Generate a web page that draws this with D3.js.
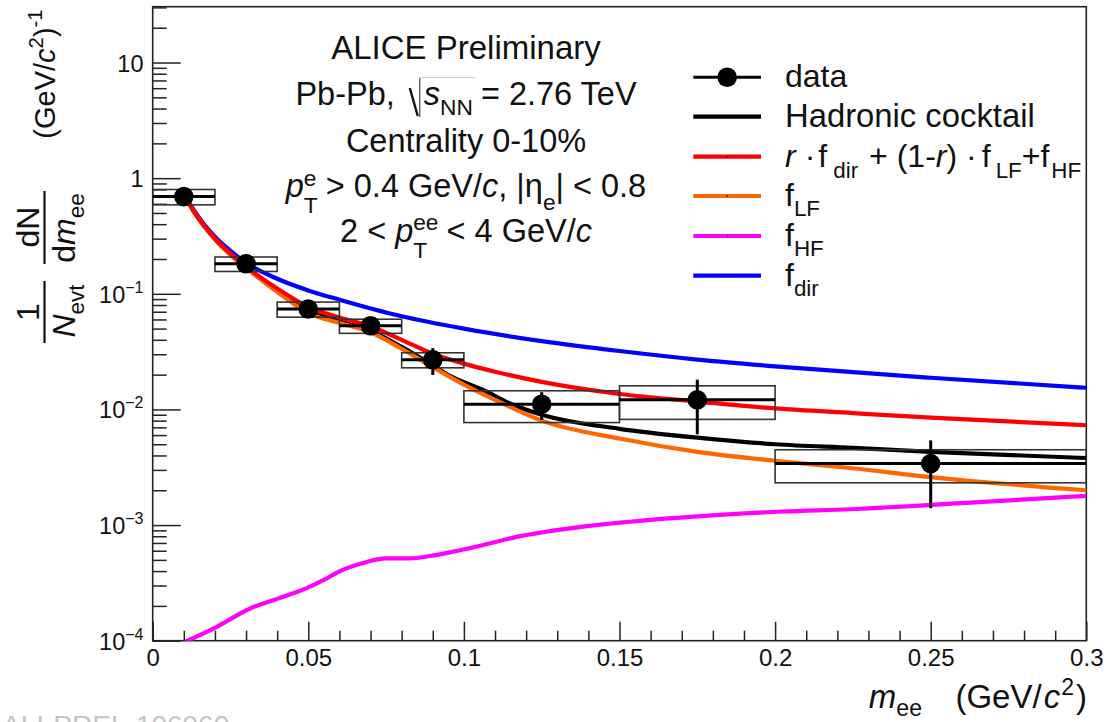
<!DOCTYPE html>
<html>
<head>
<meta charset="utf-8">
<script src="https://cdn.jsdelivr.net/npm/d3@7"></script>
<style>
  html, body { margin: 0; padding: 0; background: #fff; }
  svg { display: block; }
</style>
</head>
<body>
<svg id="chart" width="1104" height="722"></svg>
<script>
// ---------------- data ----------------
// dielectron mass bins (GeV/c^2)
const massLow    = [0.00, 0.02, 0.04, 0.06, 0.08, 0.10, 0.15, 0.20];
const massHigh   = [0.02, 0.04, 0.06, 0.08, 0.10, 0.15, 0.20, 0.30];
const massCenter = [0.01, 0.03, 0.05, 0.07, 0.09, 0.125, 0.175, 0.25];
// measured yield 1/Nevt dN/dm_ee with statistical and systematic uncertainties
const yieldData  = [0.693, 0.182, 0.0738, 0.0529, 0.0269, 0.0111, 0.0121, 0.0034];
const statErr    = [0.02, 0.006, 0.003, 0.003, 0.007, 0.003, 0.006, 0.002];
const sysErr     = [0.105, 0.026, 0.011, 0.0074, 0.004, 0.0034, 0.0039, 0.00108];

// model curves: [m_ee, yield]
const cocktailCurve = [[0.0104,0.69],[0.013,0.525],[0.0165,0.385],[0.0206,0.285],[0.025,0.218],[0.030,0.169],
  [0.040,0.105],[0.050,0.0705],[0.060,0.058],[0.070,0.048],[0.080,0.0347],[0.090,0.0240],[0.0955,0.0195],
  [0.106,0.0148],[0.115,0.0112],[0.125,0.0090],[0.150,0.0068],[0.175,0.0057],[0.200,0.0050],[0.225,0.00465],
  [0.250,0.00430],[0.300,0.00380]];
const fitCurve = [[0.0104,0.70],[0.013,0.53],[0.0165,0.39],[0.0206,0.29],[0.025,0.223],[0.030,0.172],
  [0.040,0.111],[0.050,0.077],[0.060,0.0625],[0.070,0.0522],[0.080,0.040],[0.090,0.0303],[0.100,0.0249],
  [0.110,0.0212],[0.125,0.0173],[0.150,0.0136],[0.175,0.0117],[0.200,0.0102],[0.225,0.0093],[0.250,0.0085],
  [0.300,0.0073]];
const lfCurve = [[0.0104,0.69],[0.013,0.525],[0.0165,0.385],[0.0206,0.285],[0.025,0.218],[0.030,0.168],
  [0.040,0.104],[0.050,0.068],[0.060,0.056],[0.070,0.0465],[0.080,0.0335],[0.090,0.0232],[0.100,0.0164],
  [0.110,0.0121],[0.125,0.0080],[0.150,0.0056],[0.175,0.0043],[0.200,0.0036],[0.225,0.0031],[0.250,0.0026],
  [0.300,0.0020]];
const hfCurve = [[0.0105,0.98e-4],[0.0206,1.32e-4],[0.0313,1.90e-4],[0.040,2.3e-4],[0.0495,2.85e-4],
  [0.055,3.35e-4],[0.0602,4.0e-4],[0.0688,4.8e-4],[0.0747,5.15e-4],[0.0827,5.15e-4],[0.0891,5.4e-4],
  [0.0955,5.8e-4],[0.105,6.6e-4],[0.117,7.9e-4],[0.1383,9.7e-4],[0.160,1.11e-3],[0.181,1.22e-3],
  [0.2025,1.31e-3],[0.2241,1.37e-3],[0.260,1.55e-3],[0.300,1.79e-3]];
const dirCurve = [[0.0104,0.70],[0.013,0.54],[0.0165,0.40],[0.0206,0.30],[0.025,0.235],[0.030,0.185],
  [0.040,0.135],[0.050,0.107],[0.060,0.089],[0.080,0.064],[0.100,0.050],[0.125,0.039],[0.150,0.032],
  [0.175,0.027],[0.200,0.0236],[0.250,0.0188],[0.300,0.0154]];

// axis ticks
const xMajorTicks  = [0, 0.05, 0.1, 0.15, 0.2, 0.25, 0.3];
const xMajorLabels = ["0", "0.05", "0.1", "0.15", "0.2", "0.25", "0.3"];
const yMajorTicks  = [1e-4, 1e-3, 1e-2, 1e-1, 1, 10];
const yMajorLabels = [["10","\u22124"], ["10","\u22123"], ["10","\u22122"], ["10","\u22121"], ["1",""], ["10",""]];

// ---------------- layout ----------------
const FONT = '"Liberation Sans", Arial, Helvetica, sans-serif';
const plot = { left: 152.7, right: 1086.3, top: 6.7, bottom: 640.7 };
const svg = d3.select('#chart').attr('font-family', FONT);

const x = d3.scaleLinear().domain([0, 0.3]).range([plot.left, plot.right]);
const y = d3.scaleLog().domain([1e-4, 30.4]).range([plot.bottom, plot.top]);

svg.append('rect').attr('width', 1104).attr('height', 722).attr('fill', '#fff');

svg.append('clipPath').attr('id', 'plotClip').append('rect')
  .attr('x', plot.left).attr('y', plot.top)
  .attr('width', plot.right - plot.left).attr('height', plot.bottom - plot.top);

// rich text: a run of segments (italic, sub/superscripts, stacked indices)
function rich(parent, segs, opt) {
  const g = parent.append('g');
  let cursor = 0, prevStart = 0;
  const marks = {};
  segs.forEach(s => {
    if (s.gap !== undefined) { cursor += s.gap; return; }
    if (s.mark) { marks[s.mark] = cursor; return; }
    const fs = opt.size * (s.scale || 1);
    const start = s.stack ? prevStart : cursor;
    const t = g.append('text')
      .attr('x', start).attr('y', s.dy || 0)
      .attr('font-size', fs)
      .attr('font-style', s.it ? 'italic' : 'normal')
      .attr('fill', opt.fill || '#111')
      .text(s.t);
    const w = t.node().getComputedTextLength();
    if (!s.stack) prevStart = start;
    cursor = Math.max(cursor, start + w);
  });
  const width = cursor;
  const shift = opt.anchor === 'middle' ? -width / 2 : opt.anchor === 'end' ? -width : 0;
  g.attr('transform', `translate(${opt.x + shift},${opt.y})`);
  return { g, width, marks };
}
const SUB = (t, dy, extra) => Object.assign({ t, scale: 0.7, dy: dy }, extra || {});

// ---------------- axes ----------------
const xMinor = d3.range(0, 0.3001, 0.01).filter(v => !xMajorTicks.some(m => Math.abs(m - v) < 1e-6));
const yMinor = [];
for (let e = -4; e <= 1; e++) for (let k = 2; k <= 9; k++) {
  const v = k * Math.pow(10, e);
  if (v < 30.4) yMinor.push(v);
}

function styleAxis(g) {
  g.select('.domain').remove();
  g.selectAll('line').attr('stroke', '#222').attr('stroke-width', 1.5);
}

const gxMinor = svg.append('g').attr('transform', `translate(0,${plot.bottom})`)
  .call(d3.axisBottom(x).tickValues(xMinor).tickSizeInner(-10).tickSizeOuter(0).tickFormat(''));
styleAxis(gxMinor);
const gx = svg.append('g').attr('transform', `translate(0,${plot.bottom})`)
  .call(d3.axisBottom(x).tickValues(xMajorTicks).tickSizeInner(-19).tickSizeOuter(0)
    .tickPadding(8.5).tickFormat((d, i) => xMajorLabels[i]));
styleAxis(gx);
gx.selectAll('text').attr('font-size', 24).attr('font-family', FONT).attr('fill', '#111');

const gyMinor = svg.append('g').attr('transform', `translate(${plot.left},0)`)
  .call(d3.axisLeft(y).tickValues(yMinor).tickSizeInner(-14).tickSizeOuter(0).tickFormat(''));
styleAxis(gyMinor);
const gy = svg.append('g').attr('transform', `translate(${plot.left},0)`)
  .call(d3.axisLeft(y).tickValues(yMajorTicks).tickSizeInner(-28).tickSizeOuter(0).tickFormat(''));
styleAxis(gy);

// y tick labels with exponents
yMajorTicks.forEach((v, i) => {
  const [base, exp] = yMajorLabels[i];
  const t = svg.append('text')
    .attr('x', 143.5).attr('y', y(v) + 9)
    .attr('text-anchor', 'end').attr('font-size', 23.5).attr('fill', '#111');
  t.append('tspan').text(base);
  if (exp) t.append('tspan').attr('dy', -10).attr('font-size', 16).text(exp);
});

// frame
svg.append('rect')
  .attr('x', plot.left).attr('y', plot.top)
  .attr('width', plot.right - plot.left).attr('height', plot.bottom - plot.top)
  .attr('fill', 'none').attr('stroke', '#222').attr('stroke-width', 1.6);

// ---------------- curves ----------------
const line = d3.line().x(d => x(d[0])).y(d => y(d[1])).curve(d3.curveMonotoneX);
const curves = svg.append('g').attr('clip-path', 'url(#plotClip)');
const curveStyles = [
  { data: cocktailCurve, color: '#000000' },
  { data: dirCurve,      color: '#0000ff' },
  { data: lfCurve,       color: '#ff6600' },
  { data: fitCurve,      color: '#ff0000' },
  { data: hfCurve,       color: '#ff00ff' }
];
curveStyles.forEach(c => {
  curves.append('path').datum(c.data).attr('d', line)
    .attr('fill', 'none').attr('stroke', c.color).attr('stroke-width', 4.2)
    .attr('stroke-linejoin', 'round');
});

// ---------------- data points ----------------
const pts = svg.append('g').attr('clip-path', 'url(#plotClip)');
massCenter.forEach((m, i) => {
  const v = yieldData[i];
  // systematic box
  pts.append('rect')
    .attr('x', x(massLow[i])).attr('y', y(v + sysErr[i]))
    .attr('width', x(massHigh[i]) - x(massLow[i]))
    .attr('height', y(v - sysErr[i]) - y(v + sysErr[i]))
    .attr('fill', 'none').attr('stroke', '#333').attr('stroke-width', 1.6);
  // bin width
  pts.append('line')
    .attr('x1', x(massLow[i])).attr('x2', x(massHigh[i]))
    .attr('y1', y(v)).attr('y2', y(v))
    .attr('stroke', '#000').attr('stroke-width', 3);
  // statistical error
  pts.append('line')
    .attr('x1', x(m)).attr('x2', x(m))
    .attr('y1', y(v + statErr[i])).attr('y2', y(v - statErr[i]))
    .attr('stroke', '#000').attr('stroke-width', 3);
  pts.append('circle').attr('cx', x(m)).attr('cy', y(v)).attr('r', 9.8).attr('fill', '#000');
});

// ---------------- legend ----------------
const legendRowsY = [77.3, 116.7, 156.7, 196, 236, 275.7];
const legendX0 = 693.3, legendX1 = 761, legendTextX = 785;
const legendColors = ['#000000', '#000000', '#ff0000', '#ff6600', '#ff00ff', '#0000ff'];
const legendLabels = [
  [{ t: 'data' }],
  [{ t: 'Hadronic cocktail' }],
  [{ t: 'r', it: true }, { gap: 9 }, { t: '\u00b7' }, { gap: 3 }, { t: 'f' }, { gap: 6 }, SUB('dir', 11),
   { gap: 11 }, { t: '+ (1-' }, { t: 'r', it: true }, { t: ')' }, { gap: 9 }, { t: '\u00b7' }, { gap: 5 },
   { t: 'f' }, { gap: 5 }, SUB('LF', 11), { t: '+f' }, { gap: 2 }, SUB('HF', 11)],
  [{ t: 'f' }, SUB('LF', 10)],
  [{ t: 'f' }, SUB('HF', 10)],
  [{ t: 'f' }, SUB('dir', 10)]
];
const legend = svg.append('g');
legendRowsY.forEach((ly, i) => {
  legend.append('line').attr('x1', legendX0).attr('x2', legendX1).attr('y1', ly).attr('y2', ly)
    .attr('stroke', legendColors[i]).attr('stroke-width', i === 0 ? 3 : 4.2);
  if (i === 0) {
    legend.append('circle').attr('cx', (legendX0 + legendX1) / 2).attr('cy', ly).attr('r', 9.8).attr('fill', '#000');
  } else if (i > 1) {
    legend.append('rect').attr('x', (legendX0 + legendX1) / 2 - 0.8).attr('y', ly - 0.8)
      .attr('width', 1.6).attr('height', 1.6).attr('fill', '#222');
  }
  rich(legend, legendLabels[i], { x: legendTextX, y: ly + 10, size: i === 1 ? 32.8 : 32, anchor: 'start' });
});

// ---------------- info text ----------------
const info = svg.append('g');
const infoX = 466;
rich(info, [{ t: 'ALICE Preliminary' }], { x: infoX, y: 58.5, size: 33, anchor: 'middle' });
const l2 = rich(info, [{ t: 'Pb-Pb,' }, { gap: 13 }, { mark: 'r0' }, { gap: 16 }, { mark: 'r1' },
  { t: 's', it: true }, SUB('NN', 10), { mark: 'r2' }, { gap: 8 }, { t: '= 2.76 TeV' }],
  { x: infoX, y: 105, size: 32.5, anchor: 'middle' });
{
  const r0 = l2.marks.r0, r1 = l2.marks.r1, r2 = l2.marks.r2;
  l2.g.append('path').attr('d', `M${r0 + 2},-17 L${r1 - 6},11`)
    .attr('stroke', '#111').attr('stroke-width', 2.4).attr('fill', 'none');
  l2.g.append('line').attr('x1', r1 - 4).attr('x2', r1 - 4).attr('y1', 12).attr('y2', -27)
    .attr('stroke', '#444').attr('stroke-width', 1.2);
  l2.g.append('line').attr('x1', r1 - 4).attr('x2', r2 + 2).attr('y1', -27.5).attr('y2', -27.5)
    .attr('stroke', '#ccc').attr('stroke-width', 1);
}
rich(info, [{ t: 'Centrality 0-10%' }], { x: infoX, y: 151.5, size: 32.5, anchor: 'middle' });
rich(info, [{ t: 'p', it: true }, SUB('e', -11), SUB('T', 16, { stack: true }), { gap: 8 },
  { t: '> 0.4 GeV/' }, { t: 'c', it: true }, { t: ', |\u03b7' }, SUB('e', 13), { t: '| < 0.8' }],
  { x: infoX, y: 197, size: 32.5, anchor: 'middle' });
rich(info, [{ t: '2 <' }, { gap: 9 }, { t: 'p', it: true }, SUB('ee', -12), SUB('T', 16, { stack: true }),
  { gap: 8 }, { t: '< 4 GeV/' }, { t: 'c', it: true }],
  { x: infoX, y: 242, size: 32.5, anchor: 'middle' });

// ---------------- axis titles ----------------
const xt = svg.append('g');
rich(xt, [{ t: 'm', it: true }, SUB('ee', 8)], { x: 922, y: 708, size: 33, anchor: 'end' });
rich(xt, [{ t: '(GeV/' }, { gap: 2 }, { t: 'c', it: true }, { gap: 1 }, SUB('2', -13), { gap: 2 }, { t: ')' }],
  { x: 1087, y: 708, size: 33, anchor: 'end' });

// y title, drawn in a rotated frame (local x = -screen y, local y = screen x)
const yt = svg.append('g').attr('transform', 'rotate(-90)');
rich(yt, [{ t: '1' }], { x: -312, y: 38.5, size: 32, anchor: 'middle' });
yt.append('line').attr('x1', -343).attr('x2', -281).attr('y1', 44.5).attr('y2', 44.5)
  .attr('stroke', '#111').attr('stroke-width', 2.2);
rich(yt, [{ t: 'N', it: true }, SUB('evt', 9)], { x: -311, y: 75, size: 32, anchor: 'middle' });
rich(yt, [{ t: 'dN' }], { x: -227, y: 38.5, size: 32, anchor: 'middle' });
yt.append('line').attr('x1', -264).attr('x2', -191).attr('y1', 44.5).attr('y2', 44.5)
  .attr('stroke', '#111').attr('stroke-width', 2.2);
rich(yt, [{ t: 'd' }, { t: 'm', it: true }, SUB('ee', 9)], { x: -228, y: 75, size: 32, anchor: 'middle' });
rich(yt, [{ t: '(GeV/' }, { t: 'c', it: true }, SUB('2', -12), { t: ')' }, SUB('-1', -13)],
  { x: -74, y: 55, size: 29, anchor: 'middle' });

// preliminary figure tag, partly below the bottom edge
svg.append('text').attr('x', 2).attr('y', 735).attr('font-size', 28).attr('fill', '#c4c4c4')
  .text('ALI-PREL-106960');
</script>
</body>
</html>
